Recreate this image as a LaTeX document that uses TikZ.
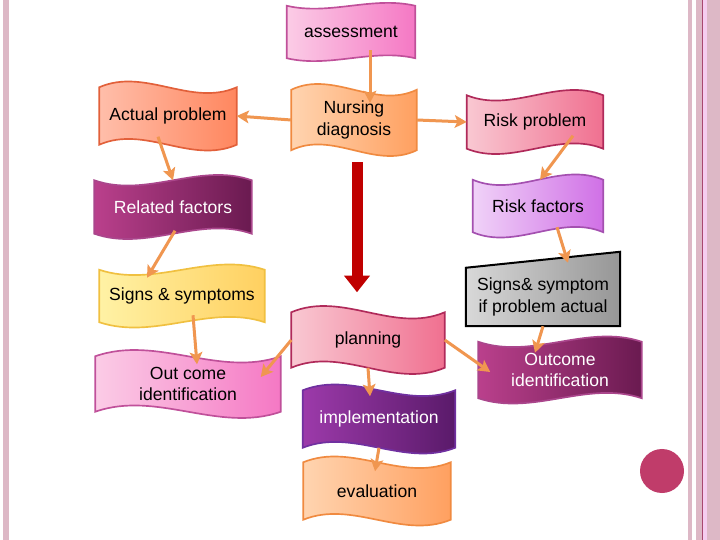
\documentclass[tikz,border=0pt]{standalone}
\usepackage{fontspec}
\setmainfont{Liberation Sans}
\usetikzlibrary{arrows.meta,backgrounds,calc}
\definecolor{arrorange}{RGB}{240,150,80}
\definecolor{bigred}{RGB}{192,0,0}
\definecolor{bordpink}{RGB}{221,184,198}
\definecolor{borddark}{RGB}{168,72,112}
\definecolor{dotred}{RGB}{192,60,106}
\tikzset{
  lbl/.style={font=\fontsize{15}{18}\selectfont,align=center,inner sep=0pt},
  banner/.style 2 args={lbl,minimum width=#1*0.03cm,minimum height=#2*0.03cm},
  arr/.style={-{Stealth[length=0.36cm,width=0.38cm,inset=0.08cm]},line width=0.09cm,arrorange},
  bigarr/.style={-{Triangle[length=0.5cm,width=0.75cm]},line width=0.33cm,bigred},
  hotpink/.style={left color={rgb,255:red,251;green,204;blue,230},right color={rgb,255:red,245;green,120;blue,196},draw={rgb,255:red,192;green,80;blue,154},line width=0.05cm},
  coral/.style={left color={rgb,255:red,255;green,190;blue,170},right color={rgb,255:red,255;green,135;blue,95},draw={rgb,255:red,226;green,96;blue,58},line width=0.05cm},
  peach/.style={left color={rgb,255:red,255;green,212;blue,176},right color={rgb,255:red,255;green,160;blue,96},draw={rgb,255:red,240;green,138;blue,64},line width=0.05cm},
  rose/.style={left color={rgb,255:red,249;green,200;blue,210},right color={rgb,255:red,240;green,112;blue,144},draw={rgb,255:red,176;green,42;blue,90},line width=0.05cm},
  plum/.style={left color={rgb,255:red,186;green,64;blue,140},right color={rgb,255:red,106;green,26;blue,80},draw={rgb,255:red,170;green,70;blue,140},line width=0.05cm},
  lilac/.style={left color={rgb,255:red,240;green,210;blue,248},right color={rgb,255:red,208;green,112;blue,230},draw={rgb,255:red,164;green,80;blue,176},line width=0.05cm},
  lemon/.style={left color={rgb,255:red,255;green,242;blue,165},right color={rgb,255:red,255;green,208;blue,96},draw={rgb,255:red,240;green,192;blue,64},line width=0.05cm},
  violet/.style={left color={rgb,255:red,156;green,58;blue,170},right color={rgb,255:red,90;green,26;blue,106},draw={rgb,255:red,112;green,48;blue,160},line width=0.05cm},
  slate/.style={left color={rgb,255:red,216;green,216;blue,216},right color={rgb,255:red,150;green,150;blue,150},draw=black,line width=0.06cm},
}
\newcommand\wavebg[3]{\path[#3] let \p1=(#1.north west), \p2=(#1.south east) in
  (\x1,\y1) .. controls ({(2*\x1+\x2)/3},\y1+#2) and ({(\x1+2*\x2)/3},\y1-#2) .. (\x2,\y1)
  -- (\x2,\y2) .. controls ({(\x1+2*\x2)/3},\y2-#2) and ({(2*\x1+\x2)/3},\y2+#2) .. (\x1,\y2) -- cycle;}

\begin{document}
\begin{tikzpicture}[x=0.03cm,y=-0.03cm]
  \useasboundingbox (0,0) rectangle (720,540);
  \node[banner={128}{52}] (assess) at (351,32) {assessment};
  \node[banner={137}{57}] (actual) at (168,116) {Actual problem};
  \node[banner={125}{60}] (nurse) at (354,120) {Nursing\\diagnosis};
  \node[banner={136}{53}] (riskp) at (535,122) {Risk problem};
  \node[banner={157}{53},text=white] (related) at (173,207) {Related factors};
  \node[banner={130}{52}] (riskf) at (538,206) {Risk factors};
  \node[banner={165}{52}] (signs) at (182,296) {Signs \& symptoms};
  \node[banner={154}{58}] (grey) at (543,297) {Signs\& symptom\\if problem actual};
  \node[banner={153}{55}] (planning) at (368,340) {planning};
  \node[banner={185}{55}] (outc) at (188,384) {Out come\\identification};
  \node[banner={163}{56},text=white] (outi) at (560,370) {Outcome\\identification};
  \node[banner={152}{57},text=white] (impl) at (379,419) {implementation};
  \node[banner={147}{57}] (eval) at (377,491) {evaluation};
  \node[circle,fill=dotred,minimum size=1.32cm] (dot) at (662,471) {};

  \begin{scope}[on background layer]
    \fill[white] (0,0) rectangle (720,540);
    \fill[bordpink] (3,0) rectangle (9,540);
    \fill[bordpink] (688,0) rectangle (692,540);
    \fill[bordpink] (696,0) rectangle (720,540);
    \fill[borddark] (702,0) rectangle (703,540);
    \fill[bordpink!70!magenta!40] (703,0) rectangle (707,540);
    \wavebg{assess}{-0.3cm}{hotpink}
    \wavebg{actual}{0.6cm}{coral}
    \wavebg{nurse}{0.6cm}{peach}
    \wavebg{riskp}{-0.55cm}{rose}
    \wavebg{related}{-0.55cm}{plum}
    \wavebg{riskf}{-0.55cm}{lilac}
    \wavebg{signs}{-0.55cm}{lemon}
    \path[slate] (grey.south west) -- (grey.north west)
      -- ([yshift=0.48cm]grey.north east) -- (grey.south east) -- cycle;
    \wavebg{planning}{0.65cm}{rose}
    \wavebg{outc}{0.65cm}{hotpink}
    \wavebg{outi}{-0.55cm}{plum}
    \wavebg{impl}{0.6cm}{violet}
    \wavebg{eval}{0.6cm}{peach}
  \end{scope}

  \draw[arr] ([shift={(19,-8)}]assess.south) -- ([shift={(16,13)}]nurse.north);
  \draw[arr] (nurse.west) -- (actual.east);
  \draw[arr] (nurse.east) -- (riskp.west);
  \draw[arr] ([shift={(-10,-8)}]actual.south) -- (related.north);
  \draw[arr] ([shift={(38,-13)}]riskp.south) -- ([shift={(2,0)}]riskf.north);
  \draw[arr] ([shift={(2,-3)}]related.south) -- ([shift={(-35,8)}]signs.north);
  \draw[arr] ([shift={(19,-5)}]riskf.south) -- ([shift={(25,-5)}]grey.north);
  \draw[arr] ([shift={(11,-7)}]signs.south) -- ([shift={(9,8)}]outc.north);
  \draw[arr] (grey.south) -- ([shift={(-25,11)}]outi.north);
  \draw[arr] (planning.west) -- ([shift={(-20,-7)}]outc.east);
  \draw[arr] (planning.east) -- ([shift={(12,2)}]outi.west);
  \draw[arr] (planning.south) -- ([shift={(-9,6)}]impl.north);
  \draw[arr] (impl.south) -- ([shift={(-2,9)}]eval.north);
  \draw[bigarr] ([shift={(3,12)}]nurse.south) -- ([shift={(-11,-20)}]planning.north);
\end{tikzpicture}
\end{document}
